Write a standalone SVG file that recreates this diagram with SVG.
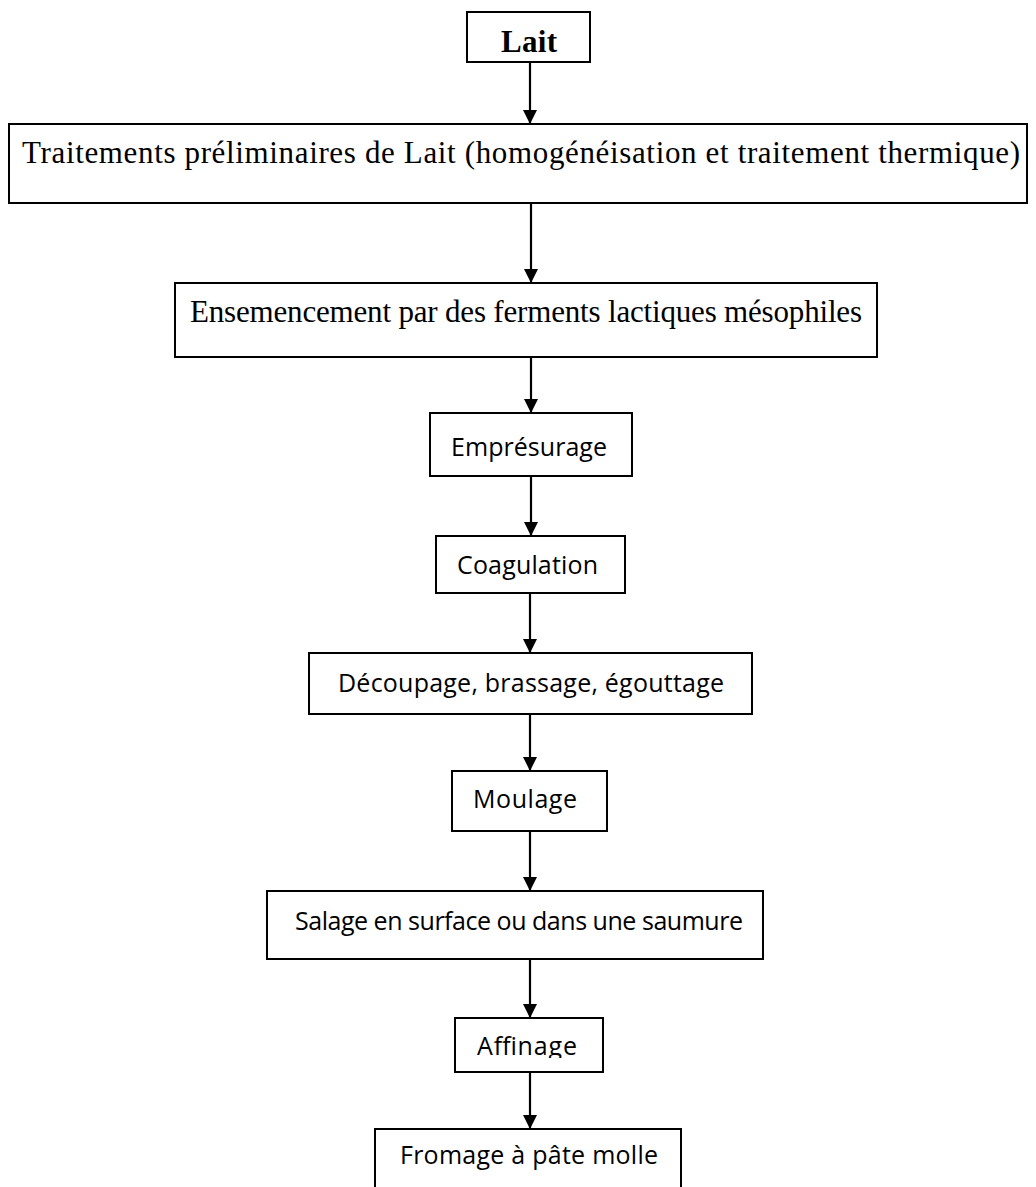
<svg xmlns="http://www.w3.org/2000/svg" width="1036" height="1187" viewBox="0 0 1036 1187">
<style>
.box{fill:#fff;stroke:#000;stroke-width:2}
.tr{font-family:"Liberation Serif","Times New Roman",serif;font-size:31px;fill:#000}
.sb{font-family:"Open Sans","Noto Sans",sans-serif;font-size:25px;fill:#000}
.con{stroke:#000;stroke-width:2.2;fill:none;marker-end:url(#ah)}
</style>
<defs>
<marker id="ah" viewBox="0 0 14 14" refX="14" refY="7" markerWidth="14" markerHeight="14" markerUnits="userSpaceOnUse" orient="auto">
<path d="M0,0 L14,7 L0,14 Z" fill="#000"/>
</marker>
<clipPath id="affclip"><rect x="455" y="1018" width="148" height="40"/></clipPath>
</defs>
<rect width="1036" height="1187" fill="#fff"/>
<g id="connectors">
<line class="con" x1="530" y1="62" x2="530" y2="124"/>
<line class="con" x1="531" y1="203" x2="531" y2="283"/>
<line class="con" x1="531" y1="357" x2="531" y2="413"/>
<line class="con" x1="531" y1="476" x2="531" y2="536"/>
<line class="con" x1="530" y1="593" x2="530" y2="653"/>
<line class="con" x1="530" y1="714" x2="530" y2="771"/>
<line class="con" x1="530" y1="831" x2="530" y2="891"/>
<line class="con" x1="530" y1="959" x2="530" y2="1018"/>
<line class="con" x1="530" y1="1072" x2="530" y2="1129"/>
</g>
<g id="n-lait">
<rect class="box" x="467" y="12" width="123" height="50"/>
<text class="tr" x="501" y="52" font-weight="bold" font-size="32" textLength="56">Lait</text>
</g>
<g id="n-traitements">
<rect class="box" x="9" y="124" width="1018" height="79"/>
<text class="tr" x="22" y="163" textLength="998">Traitements préliminaires de Lait (homogénéisation et traitement thermique)</text>
</g>
<g id="n-ensemencement">
<rect class="box" x="175" y="283" width="702" height="74"/>
<text class="tr" x="190" y="322" textLength="672">Ensemencement par des ferments lactiques mésophiles</text>
</g>
<g id="n-empresurage">
<rect class="box" x="430" y="413" width="202" height="63"/>
<text class="sb" x="451" y="456" textLength="156">Emprésurage</text>
</g>
<g id="n-coagulation">
<rect class="box" x="436" y="536" width="189" height="57"/>
<text class="sb" x="457" y="574" textLength="141">Coagulation</text>
</g>
<g id="n-decoupage">
<rect class="box" x="309" y="653" width="443" height="61"/>
<text class="sb" x="338" y="692" textLength="386">Découpage, brassage, égouttage</text>
</g>
<g id="n-moulage">
<rect class="box" x="452" y="771" width="155" height="60"/>
<text class="sb" x="473" y="808" textLength="104">Moulage</text>
</g>
<g id="n-salage">
<rect class="box" x="267" y="891" width="496" height="68"/>
<text class="sb" x="295" y="930" font-size="24" textLength="448">Salage en surface ou dans une saumure</text>
</g>
<g id="n-affinage">
<rect class="box" x="455" y="1018" width="148" height="54"/>
<text class="sb" x="477" y="1055" textLength="100" clip-path="url(#affclip)">Affinage</text>
</g>
<g id="n-fromage">
<path d="M375,1190 L375,1129 L681,1129 L681,1190" fill="#fff" stroke="#000" stroke-width="2"/>
<text class="sb" x="400" y="1164" textLength="258">Fromage à pâte molle</text>
</g>
</svg>
